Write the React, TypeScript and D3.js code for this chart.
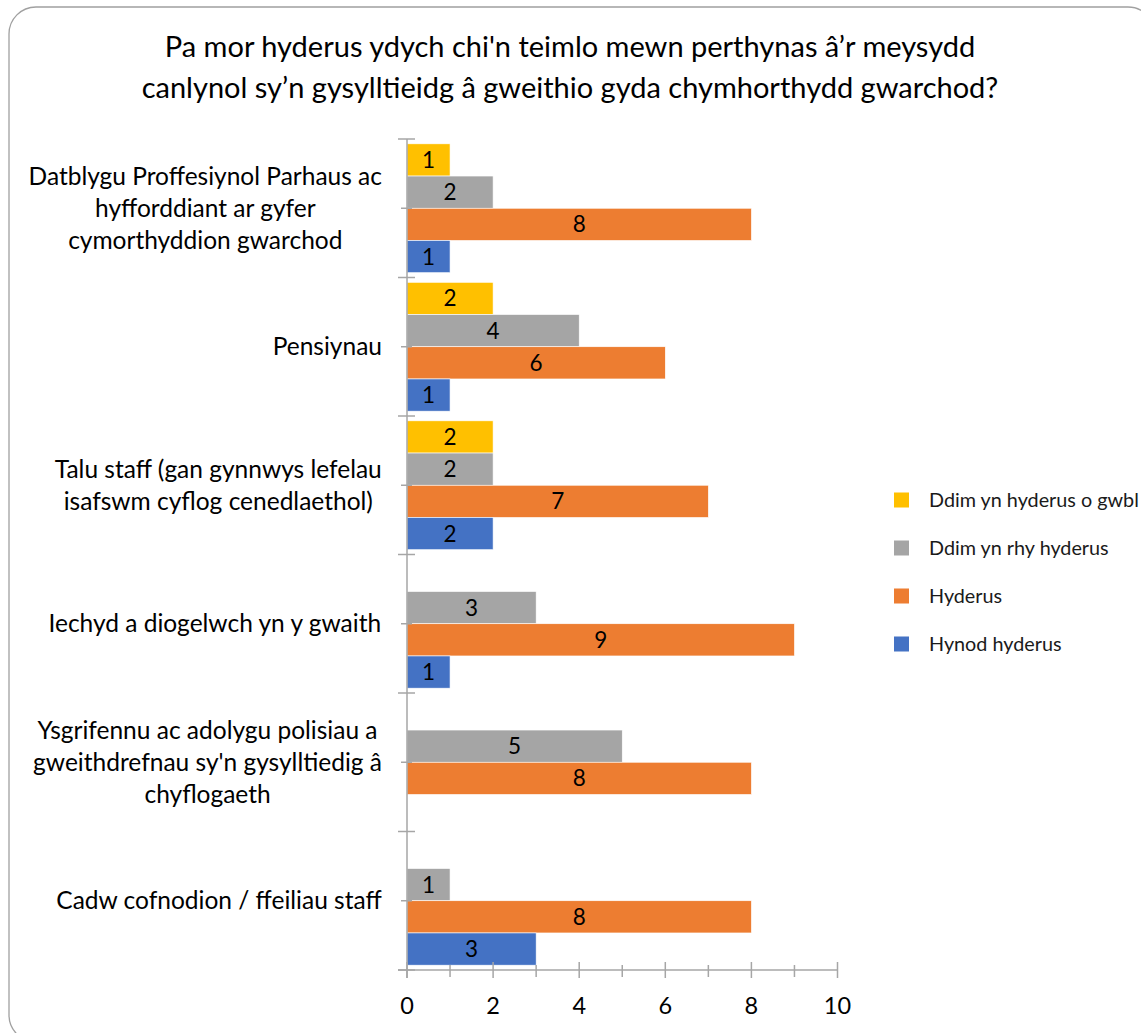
import React from "react";
import * as d3 from "d3";

const categories: string[][] = [
  ["Datblygu Proffesiynol Parhaus ac", "hyfforddiant ar gyfer", "cymorthyddion gwarchod"],
  ["Pensiynau"],
  ["Talu staff (gan gynnwys lefelau", "isafswm cyflog cenedlaethol)"],
  ["Iechyd a diogelwch yn y gwaith"],
  ["Ysgrifennu ac adolygu polisiau a", "gweithdrefnau sy'n gysylltiedig â", "chyflogaeth"],
  ["Cadw cofnodion / ffeiliau staff"],
];

const seriesNames = ["Ddim yn hyderus o gwbl", "Ddim yn rhy hyderus", "Hyderus", "Hynod hyderus"];
const seriesColors = ["#FFC000", "#A5A5A5", "#ED7D31", "#4472C4"];

const ddimOGwbl: (number | null)[] = [1, 2, 2, null, null, null];
const ddimRhy: (number | null)[] = [2, 4, 2, 3, 5, 1];
const hyderus: (number | null)[] = [8, 6, 7, 9, 8, 8];
const hynod: (number | null)[] = [1, 1, 2, 1, null, 3];
const seriesValues = [ddimOGwbl, ddimRhy, hyderus, hynod];

const xTicks = [0, 2, 4, 6, 8, 10];
const titleLines = [
  "Pa mor hyderus ydych chi'n teimlo mewn perthynas â’r meysydd",
  "canlynol sy’n gysylltieidg â gweithio gyda chymhorthydd gwarchod?",
];

const FONT = "Lato, 'Open Sans', sans-serif";

function measure(text: string, size: number): number {
  const c = document.createElement("canvas");
  const ctx = c.getContext("2d");
  if (!ctx) return text.length * size * 0.5;
  ctx.font = `${size}px Lato`;
  return ctx.measureText(text).width;
}

export default function App() {
  const W = 1141, H = 1033;
  const left = 407, right = 837.5, top = 139, bottom = 970;
  const x = d3.scaleLinear().domain([0, 10]).range([left, right]);
  const y = d3.scaleBand<number>().domain(d3.range(categories.length)).range([top, bottom]).padding(0);
  const inner = d3.scaleBand<number>().domain(d3.range(4)).range([0, y.bandwidth()]).paddingInner(0).paddingOuter(0.15);
  const catSize = 24.5;
  const lineH = 32;
  const labelRight = 382;
  const axisColor = "#A6A6A6";

  return (
    <svg width={W} height={H} style={{ position: "absolute", left: 0, top: 0, display: "block" }} fontFamily={FONT}>
      <rect x={0} y={0} width={W} height={H} fill="#fff" />
      <rect x={9} y={7} width={1146} height={1035} rx={27} ry={27} fill="#fff" stroke="#A0A0A0" strokeWidth={1.3} />
      {titleLines.map((t, i) => (
        <text key={i} x={570} y={57 + i * 41} textAnchor="middle" fontSize={29} fill="#000">{t}</text>
      ))}
      {/* bars */}
      {seriesValues.map((vals, s) =>
        vals.map((v, c) =>
          v == null ? null : (
            <g key={`${s}-${c}`}>
              <rect x={x(0)} y={(y(c) as number) + (inner(s) as number)} width={x(v) - x(0)} height={inner.bandwidth()} fill={seriesColors[s]} stroke="#fff" strokeWidth={0.6} />
              <text x={(x(0) + x(v)) / 2} y={(y(c) as number) + (inner(s) as number) + inner.bandwidth() / 2 + 8} textAnchor="middle" fontSize={22.5} fill="#000">{v}</text>
            </g>
          )
        )
      )}
      {/* y axis */}
      <line x1={left} x2={left} y1={top} y2={bottom + 8} stroke={axisColor} strokeWidth={1.5} />
      {d3.range(categories.length + 1).map((i) => {
        const yy = top + i * y.bandwidth();
        return <line key={`yt${i}`} x1={left - 9} x2={left + 8} y1={yy} y2={yy} stroke={axisColor} strokeWidth={1.5} />;
      })}
      {d3.range(categories.length).map((i) => {
        const yy = (y(i) as number) + y.bandwidth() / 2;
        return <line key={`ym${i}`} x1={left - 6} x2={left + 5} y1={yy} y2={yy} stroke={axisColor} strokeWidth={1.5} />;
      })}
      {/* x axis */}
      <line x1={left - 9} x2={right} y1={bottom} y2={bottom} stroke={axisColor} strokeWidth={1.5} />
      {d3.range(0, 11).map((t) => (
        <line key={`xt${t}`} x1={x(t)} x2={x(t)} y1={bottom - (t % 2 === 0 ? 8 : 5)} y2={bottom + (t % 2 === 0 ? 8 : 7)} stroke={axisColor} strokeWidth={1.5} />
      ))}
      {xTicks.map((t) => (
        <text key={`xl${t}`} x={x(t)} y={1014} textAnchor="middle" fontSize={23.5} fill="#000">{t}</text>
      ))}
      {/* category labels */}
      {categories.map((lines, i) => {
        const maxW = Math.max(...lines.map((l) => measure(l, catSize)));
        const cx = labelRight - maxW / 2;
        const cy = (y(i) as number) + y.bandwidth() / 2;
        const firstBase = cy - ((lines.length - 1) * lineH) / 2 + 8.5;
        return (
          <text key={`c${i}`} textAnchor="middle" fontSize={catSize} fill="#000">
            {lines.map((l, j) => (
              <tspan key={j} x={cx} y={firstBase + j * lineH}>{l}</tspan>
            ))}
          </text>
        );
      })}
      {/* legend */}
      {seriesNames.map((n, i) => (
        <g key={`lg${i}`}>
          <rect x={894} y={492.5 + i * 48} width={15} height={15} fill={seriesColors[i]} />
          <text x={929} y={507 + i * 48} fontSize={19.8} fill="#1a1a1a">{n}</text>
        </g>
      ))}
    </svg>
  );
}
